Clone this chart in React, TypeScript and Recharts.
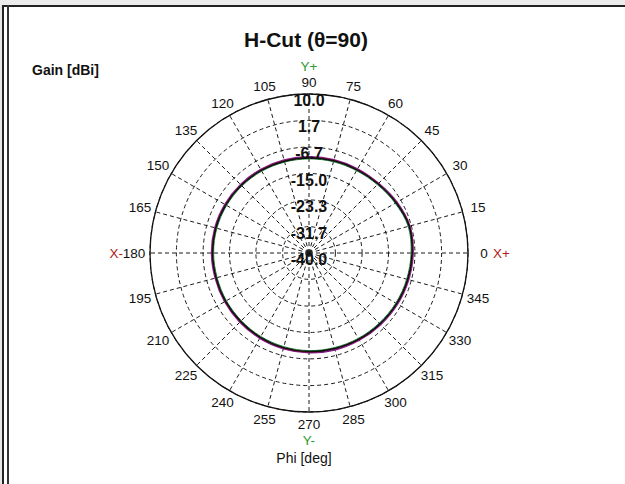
import { RadarChart, Radar, PolarGrid, PolarAngleAxis, PolarRadiusAxis } from 'recharts'

// phi angles of the H-cut (deg)
const phi = [0, 15, 30, 45, 60, 75, 90, 105, 120, 135, 150, 165, 180, 195, 210, 225, 240, 255, 270, 285, 300, 315, 330, 345]

// gain traces (dBi)
const gainBlack = [-7.4, -8.4, -9.3, -9.8, -10.0, -10.1, -10.1, -10.0, -9.9, -9.8, -9.7, -9.7, -9.8, -9.7, -9.6, -9.4, -9.2, -9.0, -8.9, -8.7, -8.5, -8.2, -7.9, -7.6]
const gainPurple = [-7.1, -8.0, -9.0, -9.4, -9.6, -9.7, -9.7, -9.6, -9.5, -9.4, -9.3, -9.3, -9.4, -9.3, -9.2, -9.0, -8.8, -8.6, -8.4, -8.3, -8.1, -7.8, -7.5, -7.2]
const gainGreen = [-7.7, -8.7, -9.6, -10.1, -10.3, -10.4, -10.4, -10.3, -10.2, -10.1, -10.0, -10.0, -10.1, -10.0, -9.9, -9.7, -9.5, -9.3, -9.2, -9.0, -8.8, -8.5, -8.2, -7.9]
const gainBlue = [-7.2, -8.2, -9.1, -9.6, -9.8, -9.9, -9.9, -9.8, -9.7, -9.6, -9.5, -9.5, -9.6, -9.5, -9.4, -9.2, -9.0, -8.8, -8.6, -8.5, -8.3, -8.0, -7.7, -7.4]
const gainRed = [-7.3, -8.3, -9.2, -9.7, -9.9, -10.0, -10.0, -9.9, -9.8, -9.7, -9.6, -9.6, -9.7, -9.6, -9.5, -9.3, -9.1, -8.9, -8.8, -8.6, -8.4, -8.1, -7.8, -7.5]

const radiusTicks = [-40, -31.7, -23.3, -15, -6.7, 1.7, 10]

const data = phi.map((p, i) => ({
  phi: p,
  black: gainBlack[i],
  purple: gainPurple[i],
  green: gainGreen[i],
  blue: gainBlue[i],
  red: gainRed[i],
}))

const CX = 309
const CY = 253
const R = 159
const FONT = '"Liberation Sans", Arial, sans-serif'

function AngleTick(props: any) {
  const v = props.payload.value
  const a = (v * Math.PI) / 180
  const r = 171 + 4 * Math.abs(Math.cos(a))
  const x = CX + r * Math.cos(a)
  const y = CY - r * Math.sin(a)
  return (
    <g fontFamily={FONT} fontSize={13.5}>
      <text x={x} y={y} textAnchor="middle" dominantBaseline="central" fill="#111">
        {v}
      </text>
      {v === 0 && (
        <text x={x + 9} y={y} dominantBaseline="central" fill="#b01818">X+</text>
      )}
      {v === 180 && (
        <text x={x - 11} y={y} textAnchor="end" dominantBaseline="central" fill="#b01818">X-</text>
      )}
      {v === 90 && (
        <text x={x} y={y - 16} textAnchor="middle" dominantBaseline="central" fill="#2e9a2e">Y+</text>
      )}
      {v === 270 && (
        <text x={x} y={y + 16} textAnchor="middle" dominantBaseline="central" fill="#2e9a2e">Y-</text>
      )}
    </g>
  )
}

function RadiusTick(props: any) {
  const { x, y, payload } = props
  return (
    <text x={x} y={y + 12} textAnchor="middle" fontFamily={FONT} fontSize={16} fontWeight="bold" fill="#111">
      {Number(payload.value).toFixed(1)}
    </text>
  )
}

// closed Catmull-Rom curve through the points Recharts computed
function SmoothRing(props: any) {
  const pts = props.points || []
  const n = pts.length
  if (!n) return null
  let d = `M${pts[0].x},${pts[0].y}`
  for (let i = 0; i < n; i++) {
    const p0 = pts[(i - 1 + n) % n]
    const p1 = pts[i]
    const p2 = pts[(i + 1) % n]
    const p3 = pts[(i + 2) % n]
    const c1x = p1.x + (p2.x - p0.x) / 6
    const c1y = p1.y + (p2.y - p0.y) / 6
    const c2x = p2.x - (p3.x - p1.x) / 6
    const c2y = p2.y - (p3.y - p1.y) / 6
    d += ` C${c1x},${c1y} ${c2x},${c2y} ${p2.x},${p2.y}`
  }
  return <path d={d + 'Z'} fill="none" stroke={props.stroke} strokeWidth={props.strokeWidth} />
}

export default function App() {
  return (
    <div style={{ position: 'absolute', left: 0, top: 0, width: 625, height: 484, background: '#fff' }}>
      <svg width={625} height={484} style={{ position: 'absolute', left: 0, top: 0 }}>
        <rect x={0} y={0} width={625} height={5} fill="#ececec" />
        <rect x={0} y={5} width={625} height={2} fill="#222" />
        <rect x={0} y={5} width={2} height={479} fill="#e6e6e6" />
        <rect x={2} y={5} width={2} height={479} fill="#222" />
        <rect x={7} y={5} width={2} height={479} fill="#333" />
        <text x={306} y={47} textAnchor="middle" fontFamily={FONT} fontSize={21} fontWeight="bold" fill="#111">
          H-Cut (θ=90)
        </text>
        <text x={32} y={75} fontFamily={FONT} fontSize={14} fontWeight="bold" fill="#111">
          Gain [dBi]
        </text>
        <text x={304} y={463} textAnchor="middle" fontFamily={FONT} fontSize={14} fill="#111">
          Phi [deg]
        </text>
      </svg>
      <div style={{ position: 'absolute', left: 0, top: 0 }}>
        <RadarChart
          width={625}
          height={484}
          data={data}
          cx={CX}
          cy={CY}
          outerRadius={R}
          startAngle={0}
          endAngle={360}
          margin={{ top: 0, right: 0, bottom: 0, left: 0 }}
        >
          <PolarGrid gridType="circle" stroke="#1a1a1a" strokeDasharray="4 3" />
          <PolarAngleAxis
            dataKey="phi"
            tick={<AngleTick />}
            tickLine={false}
            axisLine={{ stroke: '#111', strokeWidth: 1.3 }}
            axisLineType="circle"
          />
          <PolarRadiusAxis
            angle={90}
            domain={[-40, 10]}
            ticks={radiusTicks}
            type="number"
            axisLine={false}
            tickLine={false}
            tick={<RadiusTick />}
          />
          <Radar dataKey="green" stroke="#1f8a3a" strokeWidth={1} fill="none" fillOpacity={0} shape={(p: any) => <SmoothRing {...p} />} isAnimationActive={false} />
          <Radar dataKey="blue" stroke="#2020b0" strokeWidth={1} fill="none" fillOpacity={0} shape={(p: any) => <SmoothRing {...p} />} isAnimationActive={false} />
          <Radar dataKey="purple" stroke="#8a1a8a" strokeWidth={1.2} fill="none" fillOpacity={0} shape={(p: any) => <SmoothRing {...p} />} isAnimationActive={false} />
          <Radar dataKey="red" stroke="#7a0a0a" strokeWidth={1} fill="none" fillOpacity={0} shape={(p: any) => <SmoothRing {...p} />} isAnimationActive={false} />
          <Radar dataKey="black" stroke="#111" strokeWidth={1.5} fill="none" fillOpacity={0} shape={(p: any) => <SmoothRing {...p} />} isAnimationActive={false} />
        </RadarChart>
      </div>
    </div>
  )
}
